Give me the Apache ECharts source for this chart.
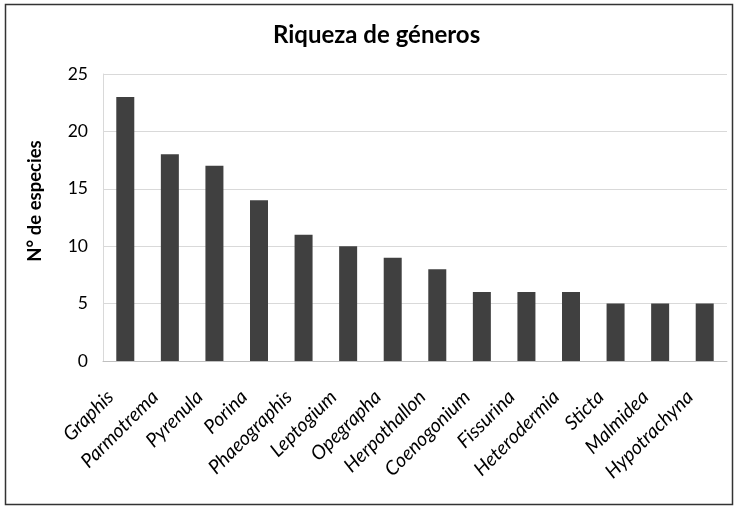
<!DOCTYPE html>
<html><head><meta charset="utf-8">
<script src="https://cdn.jsdelivr.net/npm/echarts@6/dist/echarts.min.js"></script>
<style>html,body{margin:0;padding:0;background:#fff}#c{width:737px;height:510px}</style>
</head><body><div id="c"></div>
<script>
const categories = ["Graphis","Parmotrema","Pyrenula","Porina","Phaeographis","Leptogium","Opegrapha","Herpothallon","Coenogonium","Fissurina","Heterodermia","Sticta","Malmidea","Hypotrachyna"];
const values = [23,18,17,14,11,10,9,8,6,6,6,5,5,5];
const yTicks = [0,5,10,15,20,25];
const chart = echarts.init(document.getElementById('c'));
const font = 'Lato, "Open Sans", sans-serif';
chart.setOption({
  animation:false,
  graphic:[
    {type:'rect',shape:{x:5.5,y:4.5,width:727,height:500},style:{fill:'none',stroke:'#333',lineWidth:1.5},silent:true},
    {type:'text',x:35,y:201,rotation:Math.PI/2,style:{text:'N° de especies',fontFamily:font,fontSize:18.5,fontWeight:'bold',fill:'#000',align:'center',verticalAlign:'middle'}}
  ],
  title:{text:'Riqueza de géneros',left:268,top:18,textStyle:{fontFamily:font,fontSize:24,fontWeight:'bold',color:'#000'}},
  grid:{left:103,right:10,top:74,bottom:149},
  xAxis:{type:'category',data:categories,
    axisLine:{lineStyle:{color:'#bfbfbf'}},axisTick:{show:false},
    axisLabel:{rotate:45,interval:0,margin:18,padding:[0,21,0,0],fontFamily:font,fontStyle:'italic',fontSize:19.5,color:'#000'}},
  yAxis:{type:'value',min:yTicks[0],max:yTicks[yTicks.length-1],interval:5,
    axisLine:{show:true,lineStyle:{color:'#d9d9d9'}},axisTick:{show:false},
    axisLabel:{fontFamily:font,fontSize:17.5,color:'#000',margin:15},
    splitLine:{lineStyle:{color:'#d9d9d9'}}},
  series:[{type:'bar',data:values,barWidth:18,itemStyle:{color:'#404040'}}]
});
</script></body></html>
